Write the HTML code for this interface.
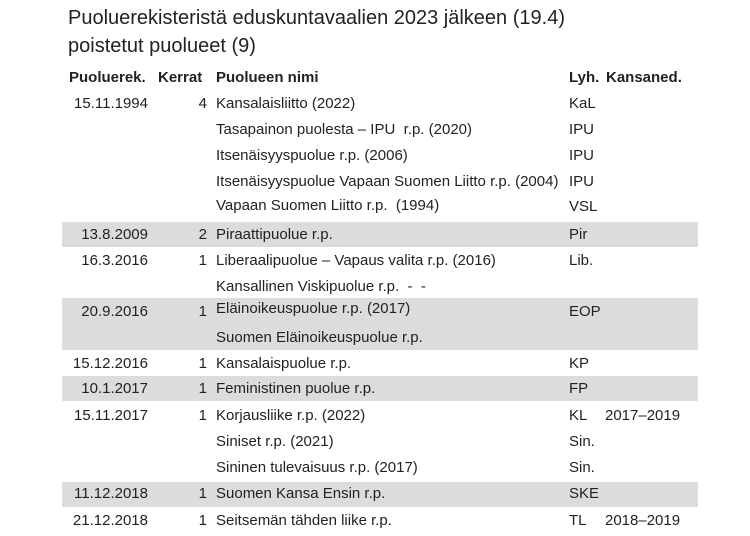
<!DOCTYPE html>
<html><head><meta charset="utf-8"><style>
body{margin:0;width:750px;height:536px;background:#fff;position:relative;overflow:hidden;font-family:"Liberation Sans",sans-serif;color:#222}
div{position:absolute;white-space:nowrap}
.t{font-size:20px;left:68px}
.h{font-size:15px;font-weight:bold;top:69px}
.r{font-size:15px;height:20px;line-height:20px}
.band{left:62px;width:636px;background:#dcdcdc}
.d{width:86px;left:62px;text-align:right}
.k{width:30px;left:177px;text-align:right}
.n{left:216px}.l{left:569px}.p{left:605px}
</style></head><body>
<div class="band" style="top:222px;height:25px"></div>
<div class="band" style="top:298px;height:52px"></div>
<div class="band" style="top:376px;height:25px"></div>
<div class="band" style="top:482px;height:25px"></div>
<div class="t" style="top:7px">Puoluerekisteristä eduskuntavaalien 2023 jälkeen (19.4)</div>
<div class="t" style="top:35px">poistetut puolueet (9)</div>
<div class="h" style="left:69px">Puoluerek.</div>
<div class="h" style="left:158px">Kerrat</div>
<div class="h" style="left:216px">Puolueen nimi</div>
<div class="h" style="left:569px">Lyh.</div>
<div class="h" style="left:606px">Kansaned.</div>
<div class="r d" style="top:94px">15.11.1994</div><div class="r k" style="top:94px">4</div><div class="r n" style="top:94px">Kansalaisliitto (2022)</div><div class="r l" style="top:94px">KaL</div>
<div class="r n" style="top:120px">Tasapainon puolesta – IPU&nbsp; r.p. (2020)</div><div class="r l" style="top:120px">IPU</div>
<div class="r n" style="top:146px">Itsenäisyyspuolue r.p. (2006)</div><div class="r l" style="top:146px">IPU</div>
<div class="r n" style="top:172px">Itsenäisyyspuolue Vapaan Suomen Liitto r.p. (2004)</div><div class="r l" style="top:172px">IPU</div>
<div class="r n" style="top:196px">Vapaan Suomen Liitto r.p.&nbsp; (1994)</div><div class="r l" style="top:197px">VSL</div>
<div class="r d" style="top:225px">13.8.2009</div><div class="r k" style="top:225px">2</div><div class="r n" style="top:225px">Piraattipuolue r.p.</div><div class="r l" style="top:225px">Pir</div>
<div class="r d" style="top:251px">16.3.2016</div><div class="r k" style="top:251px">1</div><div class="r n" style="top:251px">Liberaalipuolue – Vapaus valita r.p. (2016)</div><div class="r l" style="top:251px">Lib.</div>
<div class="r n" style="top:277px">Kansallinen Viskipuolue r.p.&nbsp; -&nbsp; -</div>
<div class="r d" style="top:302px">20.9.2016</div><div class="r k" style="top:302px">1</div><div class="r n" style="top:299px">Eläinoikeuspuolue r.p. (2017)</div><div class="r l" style="top:302px">EOP</div>
<div class="r n" style="top:328px">Suomen Eläinoikeuspuolue r.p.</div>
<div class="r d" style="top:354px">15.12.2016</div><div class="r k" style="top:354px">1</div><div class="r n" style="top:354px">Kansalaispuolue r.p.</div><div class="r l" style="top:354px">KP</div>
<div class="r d" style="top:379px">10.1.2017</div><div class="r k" style="top:379px">1</div><div class="r n" style="top:379px">Feministinen puolue r.p.</div><div class="r l" style="top:379px">FP</div>
<div class="r d" style="top:406px">15.11.2017</div><div class="r k" style="top:406px">1</div><div class="r n" style="top:406px">Korjausliike r.p. (2022)</div><div class="r l" style="top:406px">KL</div><div class="r p" style="top:406px">2017–2019</div>
<div class="r n" style="top:432px">Siniset r.p. (2021)</div><div class="r l" style="top:432px">Sin.</div>
<div class="r n" style="top:458px">Sininen tulevaisuus r.p. (2017)</div><div class="r l" style="top:458px">Sin.</div>
<div class="r d" style="top:484px">11.12.2018</div><div class="r k" style="top:484px">1</div><div class="r n" style="top:484px">Suomen Kansa Ensin r.p.</div><div class="r l" style="top:484px">SKE</div>
<div class="r d" style="top:511px">21.12.2018</div><div class="r k" style="top:511px">1</div><div class="r n" style="top:511px">Seitsemän tähden liike r.p.</div><div class="r l" style="top:511px">TL</div><div class="r p" style="top:511px">2018–2019</div>
</body></html>
